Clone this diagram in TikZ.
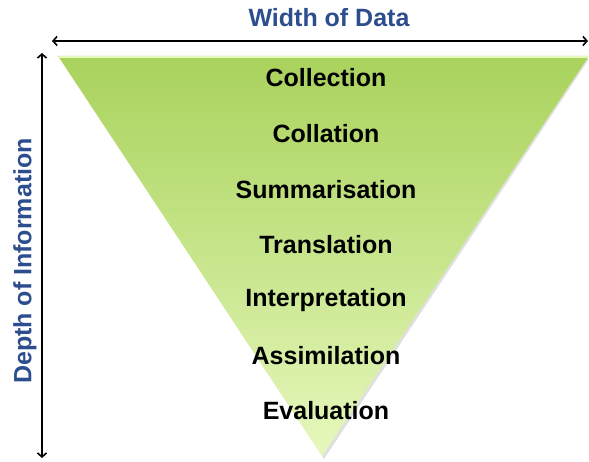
\documentclass[tikz,border=0pt]{standalone}
\usepackage{fontspec}
\setmainfont{Liberation Sans}
\usetikzlibrary{arrows.meta}

\definecolor{funneltop}{HTML}{A9D25C}
\definecolor{funnelbot}{HTML}{E6F8BC}
\definecolor{axisblue}{HTML}{2C4E8E}

\begin{document}
\begin{tikzpicture}[%
      x=1pt, y=-1pt,
      stage/.style={font=\bfseries\fontsize{25}{28}\selectfont, text=black},
      axislabel/.style={font=\bfseries\fontsize{25}{28}\selectfont, text=axisblue},
      axis/.style={line width=1.6pt, {Straight Barb[length=4pt,width=9pt]}-{Straight Barb[length=4pt,width=9pt]}},
      ]
      \useasboundingbox (0,0) rectangle (589,462);

      % the funnel
      \coordinate (tl) at (58,56);
      \coordinate (tr) at (589,56);
      \coordinate (tip) at (322,456);
      \fill [black, opacity=0.12] (61,59) -- (589,59) -- (324,459) -- cycle;
      \shade [top color=funneltop, bottom color=funnelbot] (tl) -- (tr) -- (tip) -- cycle;
      \draw [color=funnelbot, line width=1.2pt] (59,57) -- (588,57);

      % axes
      \coordinate (wl) at (52,41);
      \coordinate (wr) at (588,41);
      \coordinate (dt) at (42,53);
      \coordinate (db) at (42,458);
      \draw [axis] (wl) -- (wr);
      \draw [axis] (dt) -- (db);

      \node [axislabel] (width) at (329,18) {Width of Data};
      \node [axislabel, rotate=90] (depth) at (25,261) {Depth of Information};

      % stages
      \node [stage] (s1) at (326,78) {Collection};
      \node [stage] (s2) at (326,134) {Collation};
      \node [stage] (s3) at (326,190) {Summarisation};
      \node [stage] (s4) at (326,245) {Translation};
      \node [stage] (s5) at (326,300) {Interpretation};
      \node [stage] (s6) at (326,356) {Assimilation};
      \node [stage] (s7) at (326,411) {Evaluation};
\end{tikzpicture}
\end{document}
